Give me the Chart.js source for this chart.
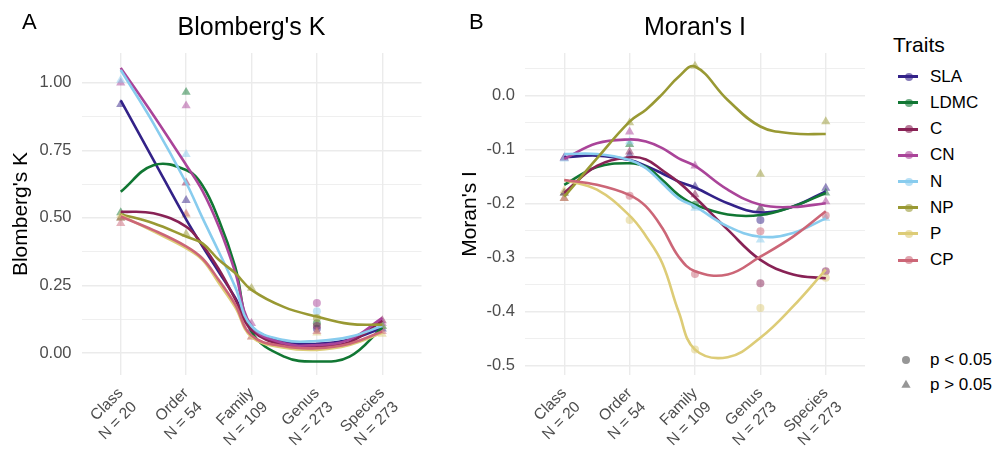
<!DOCTYPE html>
<html>
<head>
<meta charset="utf-8">
<script src="https://cdn.jsdelivr.net/npm/chart.js@4.4.1/dist/chart.umd.min.js"></script>
<style>
  body { margin: 0; background: #fff; font-family: "Liberation Sans", Arial, sans-serif; }
  #wrap { position: relative; width: 994px; height: 454px; overflow: hidden; }
  canvas { position: absolute; top: 0; }
  .tag { position: absolute; font-size: 22px; line-height: 22px; top: 11.4px; color: #000; }
  .ptitle { position: absolute; font-size: 25px; line-height: 25px; top: 13.8px; width: 340px; text-align: center; color: #000; }
  .ltitle { position: absolute; left: 893px; top: 34px; font-size: 21px; line-height: 21px; color: #000; }
  .litem { position: absolute; left: 898px; height: 20px; font-size: 17px; line-height: 20px; color: #000; }
  .litem .key { position: absolute; left: 0; top: 8.5px; width: 20px; height: 3px; }
  .litem .dot { position: absolute; left: 6.5px; top: 6px; width: 8px; height: 8px; border-radius: 50%; }
  .litem .txt { position: absolute; left: 32px; top: 0; white-space: nowrap; }
</style>
</head>
<body>
<div id="wrap">
  <canvas id="chartK" width="440" height="454" style="left:0"></canvas>
  <canvas id="chartMoran" width="440" height="454" style="left:440px"></canvas>
  <div class="tag" style="left:22px">A</div>
  <div class="tag" style="left:469px">B</div>
  <div class="ptitle" style="left:81.5px">Blomberg's K</div>
  <div class="ptitle" style="left:525px">Moran's I</div>
  <div class="ltitle">Traits</div>
  <div id="legend"></div>
</div>
<script>
// taxonomic levels on the x axis
const levels = ['Class', 'Order', 'Family', 'Genus', 'Species'];
const levelN = [20, 54, 109, 273, 273];

const traits = ['SLA', 'LDMC', 'C', 'CN', 'N', 'NP', 'P', 'CP'];
const traitColors = ['#332288', '#117733', '#882255', '#AA4499', '#88CCEE', '#999933', '#DDCC77', '#CC6677'];

// x positions where the smoothed curves were read (1 = Class ... 5 = Species)
const curveX = [1, 1.5, 2, 2.25, 2.5, 2.75, 3, 3.5, 4, 4.5, 5];

// --- Blomberg's K ---
const kTicks = [0, 0.25, 0.5, 0.75, 1];
const kCurves = [
    [0.935, 0.715, 0.495, 0.395, 0.30, 0.205, 0.095, 0.043, 0.034, 0.05, 0.093],   // SLA
    [0.597, 0.695, 0.677, 0.62, 0.493, 0.32, 0.08, -0.013, -0.031, -0.013, 0.095], // LDMC
    [0.523, 0.517, 0.468, 0.40, 0.31, 0.20, 0.085, 0.03, 0.025, 0.04, 0.12],       // C
    [1.055, 0.88, 0.696, 0.60, 0.468, 0.30, 0.10, 0.036, 0.03, 0.05, 0.13],        // CN
    [1.047, 0.85, 0.63, 0.50, 0.375, 0.245, 0.10, 0.048, 0.045, 0.06, 0.10],       // N
    [0.514, 0.48, 0.431, 0.406, 0.345, 0.296, 0.234, 0.17, 0.135, 0.108, 0.105],   // NP
    [0.51, 0.45, 0.388, 0.345, 0.259, 0.17, 0.06, 0.02, 0.012, 0.03, 0.075],       // P
    [0.505, 0.455, 0.395, 0.35, 0.27, 0.18, 0.065, 0.025, 0.018, 0.035, 0.08]      // CP
];
const kPoints = [
    [0.92, 0.565, 0.09, 0.09, 0.09],
    [0.52, 0.965, 0.08, 0.11, 0.10],
    [0.50, 0.63, 0.08, 0.10, 0.12],
    [1.00, 0.915, 0.11, 0.185, 0.11],
    [1.01, 0.735, 0.08, 0.155, 0.10],
    [0.50, 0.44, 0.24, 0.13, 0.10],
    [0.51, 0.51, 0.06, 0.075, 0.07],
    [0.48, 0.515, 0.06, 0.08, 0.08]
];
// 1 = p < 0.05 (circle), 0 = p > 0.05 (triangle)
const kSig = [
    [0, 0, 0, 1, 0],
    [0, 0, 0, 1, 0],
    [0, 0, 0, 1, 0],
    [0, 0, 0, 1, 0],
    [0, 0, 0, 1, 0],
    [0, 0, 0, 1, 0],
    [0, 0, 0, 0, 0],
    [0, 0, 0, 0, 0]
];

// --- Moran's I ---
const moranTicks = [-0.5, -0.4, -0.3, -0.2, -0.1, 0];
const moranCurves = [
    [-0.114, -0.111, -0.119, -0.130, -0.144, -0.159, -0.170, -0.199, -0.216, -0.205, -0.177], // SLA
    [-0.165, -0.132, -0.125, -0.132, -0.156, -0.184, -0.202, -0.220, -0.221, -0.205, -0.180], // LDMC
    [-0.18, -0.13, -0.114, -0.118, -0.138, -0.16, -0.188, -0.248, -0.304, -0.331, -0.338],    // C
    [-0.117, -0.088, -0.081, -0.085, -0.097, -0.116, -0.130, -0.174, -0.202, -0.206, -0.199], // CN
    [-0.108, -0.108, -0.119, -0.134, -0.162, -0.19, -0.205, -0.242, -0.261, -0.254, -0.227],  // N
    [-0.187, -0.116, -0.048, -0.026, 0.003, 0.035, 0.054, -0.008, -0.057, -0.07, -0.071],     // NP
    [-0.156, -0.174, -0.222, -0.26, -0.31, -0.40, -0.470, -0.484, -0.448, -0.39, -0.322],     // P
    [-0.156, -0.165, -0.184, -0.205, -0.245, -0.298, -0.325, -0.331, -0.298, -0.261, -0.214]  // CP
];
const moranPoints = [
    [-0.115, -0.11, -0.168, -0.23, -0.171],
    [-0.18, -0.09, -0.202, -0.208, -0.18],
    [-0.18, -0.104, -0.183, -0.347, -0.325],
    [-0.115, -0.067, -0.13, -0.21, -0.196],
    [-0.117, -0.085, -0.208, -0.267, -0.227],
    [-0.19, -0.05, 0.055, -0.145, -0.048],
    [-0.175, -0.23, -0.47, -0.393, -0.337],
    [-0.19, -0.185, -0.33, -0.251, -0.222]
];
const moranSig = [
    [0, 0, 0, 1, 0],
    [0, 0, 1, 0, 0],
    [0, 0, 0, 1, 1],
    [0, 0, 0, 0, 0],
    [0, 0, 0, 0, 0],
    [0, 0, 0, 0, 0],
    [0, 1, 1, 1, 1],
    [0, 1, 1, 1, 1]
];

Chart.defaults.font.family = '"Liberation Sans", Arial, sans-serif';

function hexAlpha(hex, a) {
    const n = parseInt(hex.slice(1), 16);
    return `rgba(${(n >> 16) & 255}, ${(n >> 8) & 255}, ${n & 255}, ${a})`;
}

function buildDatasets(curves, points, sig) {
    const sets = [];
    traits.forEach((trait, i) => {
        // observed values (drawn under the curves)
        sets.push({
            label: trait + ' obs',
            data: points[i].map((y, j) => ({ x: j + 1, y: y })),
            backgroundColor: hexAlpha(traitColors[i], 0.5),
            borderWidth: 0,
            pointStyle: sig[i].map(s => s ? 'circle' : 'triangle'),
            pointRadius: sig[i].map(s => s ? 4 : 5.3),
            order: 20 - i
        });
        // smoothed trend
        sets.push({
            label: trait,
            data: curveX.map((x, j) => ({ x: x, y: curves[i][j] })),
            showLine: true,
            borderColor: traitColors[i],
            borderWidth: 2.6,
            pointRadius: 0,
            tension: 0.4,
            order: 10 - i
        });
    });
    return sets;
}

function makePanel(canvasId, cfg) {
    const step = cfg.ticks[1] - cfg.ticks[0];
    const isMajor = v => Math.abs(v / step - Math.round(v / step)) < 1e-6;

    return new Chart(document.getElementById(canvasId), {
        type: 'scatter',
        data: { datasets: buildDatasets(cfg.curves, cfg.points, cfg.sig) },
        options: {
            responsive: false,
            animation: false,
            events: [],
            devicePixelRatio: 1,
            layout: { padding: { left: 0, right: cfg.padRight, top: 53, bottom: 0 } },
            plugins: { legend: { display: false }, tooltip: { enabled: false } },
            scales: {
                x: {
                    type: 'linear',
                    min: 0.4,
                    max: 5.6,
                    afterBuildTicks: axis => { axis.ticks = levels.map((l, i) => ({ value: i + 1 })); },
                    afterFit: axis => { axis.height = 79; },
                    border: { display: false },
                    grid: { color: '#ebebeb', lineWidth: 1.4, drawTicks: false },
                    ticks: {
                        autoSkip: false,
                        minRotation: 45,
                        maxRotation: 45,
                        padding: 9,
                        color: '#4d4d4d',
                        font: { size: 15.5, lineHeight: 1.25 },
                        callback: v => [levels[v - 1], 'N = ' + levelN[v - 1]]
                    }
                },
                y: {
                    type: 'linear',
                    min: cfg.min,
                    max: cfg.max,
                    afterBuildTicks: axis => {
                        const vals = [];
                        cfg.ticks.forEach(t => { vals.push(t); vals.push(t - step / 2); });
                        vals.push(cfg.ticks[cfg.ticks.length - 1] + step / 2);
                        axis.ticks = vals.filter(v => v >= cfg.min && v <= cfg.max)
                            .sort((a, b) => a - b)
                            .map(v => ({ value: v }));
                    },
                    afterFit: axis => { axis.width = cfg.axisWidth; },
                    border: { display: false },
                    grid: {
                        color: '#ebebeb',
                        drawTicks: false,
                        lineWidth: ctx => isMajor(ctx.tick.value) ? 1.4 : 0.8
                    },
                    ticks: {
                        padding: 10,
                        color: '#4d4d4d',
                        font: { size: 16.5 },
                        callback: v => isMajor(v) ? v.toFixed(cfg.digits) : ''
                    },
                    title: {
                        display: true,
                        text: cfg.yTitle,
                        color: '#000',
                        font: { size: 21 },
                        padding: { top: cfg.titlePad, bottom: 0 }
                    }
                }
            }
        }
    });
}

makePanel('chartK', {
    curves: kCurves, points: kPoints, sig: kSig, ticks: kTicks,
    min: -0.081, max: 1.11, digits: 2, yTitle: "Blomberg's K",
    axisWidth: 81.5, padRight: 18.5, titlePad: 9
});

makePanel('chartMoran', {
    curves: moranCurves, points: moranPoints, sig: moranSig, ticks: moranTicks,
    min: -0.517, max: 0.079, digits: 1, yTitle: "Moran's I",
    axisWidth: 85, padRight: 15, titlePad: 18
});

// legend (HTML)
const legend = document.getElementById('legend');
traits.forEach((trait, i) => {
    const item = document.createElement('div');
    item.className = 'litem';
    item.style.top = (66.7 + i * 26.2) + 'px';
    item.innerHTML = `<div class="key" style="background:${traitColors[i]}"></div>` +
        `<div class="dot" style="background:${hexAlpha(traitColors[i], 0.6)}"></div>` +
        `<div class="txt">${trait}</div>`;
    legend.appendChild(item);
});
const pLabels = ['p < 0.05', 'p > 0.05'];
pLabels.forEach((txt, i) => {
    const item = document.createElement('div');
    item.className = 'litem';
    item.style.top = (350 + i * 25) + 'px';
    const shape = i === 0
        ? '<circle cx="10" cy="10" r="4" fill="rgba(80,80,80,0.6)"/>'
        : '<polygon points="10,4.7 14.6,12.7 5.4,12.7" fill="rgba(80,80,80,0.6)"/>';
    item.innerHTML = `<svg width="20" height="20" style="position:absolute;left:-2px;top:0">${shape}</svg>` +
        `<div class="txt">${txt}</div>`;
    legend.appendChild(item);
});
</script>
</body>
</html>
